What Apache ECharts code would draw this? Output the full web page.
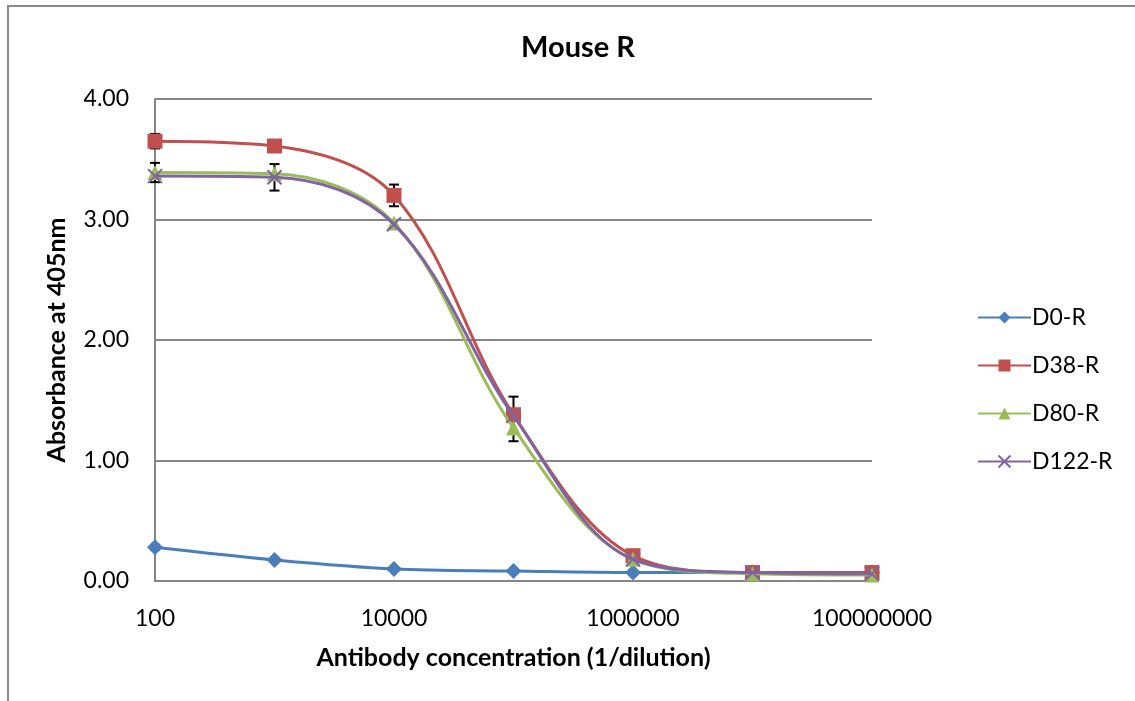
<!DOCTYPE html>
<html>
<head>
<meta charset="utf-8">
<title>Mouse R</title>
<script src="https://cdn.jsdelivr.net/npm/echarts@6/dist/echarts.min.js"></script>
<style>
  html, body { margin: 0; padding: 0; background: #fff; }
  #chart { width: 1135px; height: 701px; }
</style>
</head>
<body>
<div id="chart"></div>
<script>
// Dilution series (1/dilution) and mean absorbance at 405 nm
const dilutions = [100, 1000, 10000, 100000, 1000000, 10000000, 100000000];
const seriesNames = ['D0-R', 'D38-R', 'D80-R', 'D122-R'];
const d0   = [0.28, 0.175, 0.10, 0.083, 0.07, 0.07, 0.07];
const d38  = [3.65, 3.61, 3.20, 1.38, 0.21, 0.07, 0.07];
const d80  = [3.39, 3.38, 2.97, 1.27, 0.18, 0.06, 0.05];
const d122 = [3.36, 3.35, 2.96, 1.37, 0.18, 0.07, 0.06];
// Standard deviations (null = no bar drawn)
const d0Err   = [0.02, null, null, null, null, null, null];
const d38Err  = [0.06, null, 0.09, 0.15, null, null, null];
const d80Err  = [0.08, null, null, 0.11, null, null, null];
const d122Err = [null, 0.11, null, null, null, null, null];
const yTicks = [0, 1, 2, 3, 4];

const colors = ['#4A7EBB', '#C0504D', '#9BBB59', '#8064A2'];
const symbols = ['diamond', 'rect', 'triangle', 'path://M0,0L10,10M10,0L0,10'];
const symbolSizes = [16, 15, 15, 14];
const values = [d0, d38, d80, d122];
const errs = [d0Err, d38Err, d80Err, d122Err];
const FONT = 'Lato';

const errData = [];
values.forEach((vals, s) => {
  vals.forEach((v, i) => {
    const e = errs[s][i];
    if (e != null) errData.push([dilutions[i], v - e, v + e]);
  });
});

const lineSeries = seriesNames.map((name, s) => ({
  name,
  type: 'line',
  smooth: 0.35,
  data: dilutions.map((x, i) => [x, values[s][i]]),
  symbol: symbols[s],
  symbolSize: symbolSizes[s],
  showAllSymbol: true,
  lineStyle: { color: colors[s], width: 3 },
  itemStyle: s === 3
    ? { color: colors[s], borderColor: colors[s], borderWidth: 2 }
    : { color: colors[s], borderWidth: 0 },
  emphasis: { disabled: true },
  z: 3 + s
}));

const errorSeries = {
  type: 'custom',
  name: 'err',
  data: errData,
  z: 2,
  silent: true,
  renderItem(params, api) {
    const x = api.value(0);
    const lo = api.coord([x, api.value(1)]);
    const hi = api.coord([x, api.value(2)]);
    const cap = 5;
    const style = { stroke: '#000', lineWidth: 2 };
    return {
      type: 'group',
      children: [
        { type: 'line', shape: { x1: lo[0], y1: lo[1], x2: hi[0], y2: hi[1] }, style },
        { type: 'line', shape: { x1: lo[0] - cap, y1: lo[1], x2: lo[0] + cap, y2: lo[1] }, style },
        { type: 'line', shape: { x1: hi[0] - cap, y1: hi[1], x2: hi[0] + cap, y2: hi[1] }, style }
      ]
    };
  }
};

const chart = echarts.init(document.getElementById('chart'), null, { renderer: 'canvas' });
chart.setOption({
  animation: false,
  backgroundColor: '#fff',
  title: {
    text: 'Mouse R',
    left: 573, top: 28, textAlign: 'center',
    textStyle: { fontFamily: FONT, fontWeight: 'bold', fontSize: 29, color: '#000' }
  },
  graphic: [
    { type: 'polyline', shape: { points: [[8, 701], [8, 6], [1135, 6]] },
      style: { stroke: '#8a8a8a', lineWidth: 2, fill: null }, silent: true }
  ],
  legend: {
    orient: 'vertical',
    left: 972, top: 301,
    itemWidth: 53, itemHeight: 15, itemGap: 25,
    data: seriesNames,
    textStyle: { fontFamily: FONT, fontSize: 23, color: '#000', padding: [0, 0, 0, -4] }
  },
  grid: { left: 155, right: 263, top: 99, bottom: 120 },
  xAxis: {
    type: 'log', logBase: 10,
    min: 100, max: 100000000, interval: 2,
    name: 'Antibody concentration (1/dilution)',
    nameLocation: 'middle', nameGap: 64,
    nameTextStyle: { fontFamily: FONT, fontWeight: 'bold', fontSize: 25, color: '#000' },
    axisLine: { show: true, lineStyle: { color: '#868686', width: 2 } },
    axisTick: { show: false },
    splitLine: { show: false },
    minorTick: { show: false },
    axisLabel: { fontFamily: FONT, fontSize: 23, color: '#000', margin: 26,
      formatter: v => String(Math.round(v)) }
  },
  yAxis: {
    type: 'value', min: yTicks[0], max: yTicks[yTicks.length - 1], interval: 1,
    name: 'Absorbance at 405nm',
    nameLocation: 'middle', nameGap: 86, nameRotate: 90,
    nameTextStyle: { fontFamily: FONT, fontWeight: 'bold', fontSize: 25, color: '#000' },
    axisLine: { show: true, lineStyle: { color: '#868686', width: 2 } },
    axisTick: { show: false },
    splitLine: { show: true, lineStyle: { color: '#868686', width: 2 } },
    axisLabel: { fontFamily: FONT, fontSize: 23, color: '#000', margin: 26,
      formatter: v => v.toFixed(2) }
  },
  series: [errorSeries, ...lineSeries]
});
</script>
</body>
</html>
